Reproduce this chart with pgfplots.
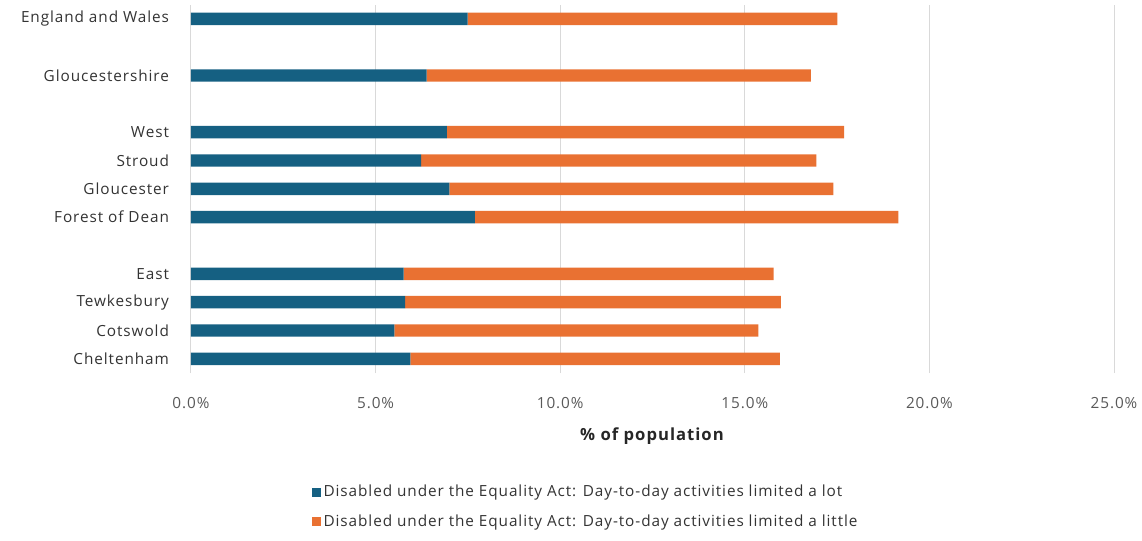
\documentclass[border=0pt]{standalone}
\usepackage{pgfplots}
\pgfplotsset{compat=1.18}
\usepackage{pgfplotstable}
\usepackage{fontspec}
\setmainfont{Open Sans}[LetterSpace=6]
\definecolor{dblue}{HTML}{156082}
\definecolor{oorange}{HTML}{E97132}
\definecolor{gridgrey}{HTML}{D9D9D9}
\definecolor{labgrey}{HTML}{595959}

% share of population (%)
\pgfplotstableread{
pos lot little
0  5.94 10.01
1  5.51 9.86
2  5.80 10.18
3  5.76 10.02
5  7.69 11.47
6  7.00 10.40
7  6.23 10.71
8  6.93 10.76
10 6.38 10.41
12 7.49 10.02
}\datatable

\begin{document}
\begin{tikzpicture}
    % page = 1142 x 540 px at 0.75pt per px
    \useasboundingbox (-143.25pt,-125.25pt) rectangle (713.25pt,279.75pt);
    \begin{axis}[
        scale only axis,
        width  = 692.25pt,
        height = 276.25pt,
        xbar stacked,
        bar width = 9.3pt,
        xmin = 0, xmax = 25,
        ymin = -0.5, ymax = 12.5,
        xtick = {0,5,...,25},
        xticklabel = {\pgfmathprintnumber[fixed,fixed zerofill,precision=1]{\tick}\%},
        /pgf/number format/assume math mode = true,
        ytick = {0,1,2,3,5,6,7,8,10,12},
        yticklabels = {Cheltenham,Cotswold,Tewkesbury,East,Forest of Dean,Gloucester,Stroud,West,Gloucestershire,England and Wales},
        xmajorgrids = true,
        grid style = {gridgrey, line width=0.75pt},
        axis line style = {draw=none},
        major tick style = {draw=none},
        tick label style = {font=\fontsize{11.5}{13}\selectfont},
        xticklabel style = {labgrey, yshift=-15pt},
        yticklabel style = {black!80, xshift=-13pt},
        xlabel = {\textbf{\% of population}},
        xlabel style = {at={(rel axis cs:0.5,0)}, anchor=center, yshift=-47.25pt,
                        font=\fontsize{12.5}{14}\selectfont, black!85},
        legend style = {
            at = {(rel axis cs:0.428,0)}, anchor = north, yshift=-80pt,
            draw = none, fill = none,
            font = \fontsize{11.5}{13}\selectfont,
            text = black!80,
            row sep = 8pt,
            legend cell align = left,
        },
        legend image code/.code = {
            \fill[#1] (0pt,-3.4pt) rectangle (6.8pt,3.4pt);
        },
    ]
        \addplot[fill=dblue, draw=none] table[x=lot, y=pos] {\datatable};
        \addplot[fill=oorange, draw=none] table[x=little, y=pos] {\datatable};
        \legend{Disabled under the Equality Act: Day-to-day activities limited a lot,
                Disabled under the Equality Act: Day-to-day activities limited a little}
    \end{axis}
\end{tikzpicture}
\end{document}
